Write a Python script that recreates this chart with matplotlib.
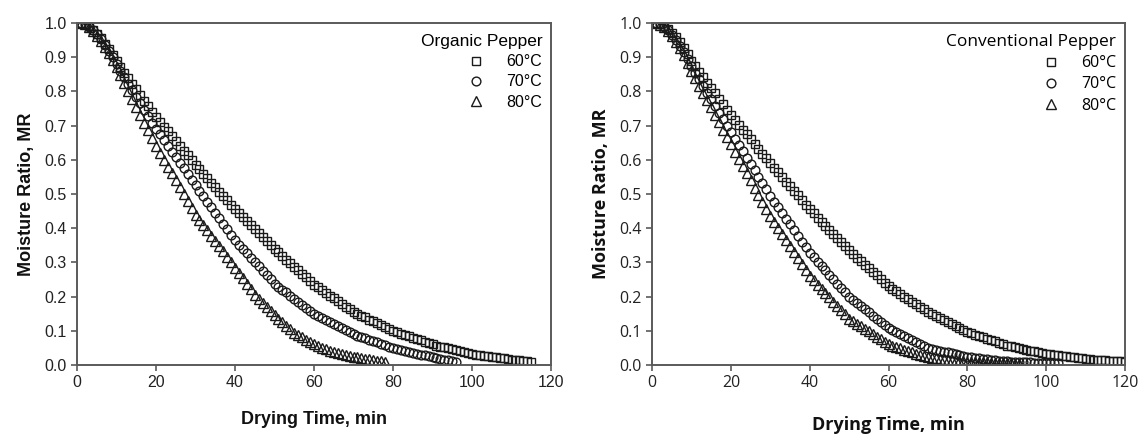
import matplotlib
matplotlib.use("Agg")
import matplotlib.pyplot as plt
from matplotlib.ticker import FormatStrFormatter

# ---------------- data ----------------
org_60_t = list(range(1, 116))
org_60 = [1.000, 0.997, 0.990, 0.980, 0.968, 0.955, 0.940, 0.924, 0.907, 0.889,
          0.872, 0.855, 0.839, 0.822, 0.806, 0.790, 0.773, 0.757, 0.741, 0.725,
          0.711, 0.697, 0.683, 0.669, 0.655, 0.641, 0.627, 0.613, 0.599, 0.585,
          0.572, 0.559, 0.546, 0.533, 0.520, 0.507, 0.494, 0.481, 0.468, 0.455,
          0.444, 0.432, 0.421, 0.409, 0.398, 0.386, 0.375, 0.363, 0.352, 0.340,
          0.330, 0.319, 0.308, 0.298, 0.288, 0.277, 0.267, 0.256, 0.246, 0.235,
          0.227, 0.219, 0.211, 0.203, 0.195, 0.187, 0.179, 0.171, 0.163, 0.155,
          0.150, 0.144, 0.139, 0.133, 0.128, 0.122, 0.117, 0.111, 0.106, 0.100,
          0.096, 0.092, 0.088, 0.084, 0.080, 0.076, 0.072, 0.068, 0.064, 0.060,
          0.057, 0.054, 0.052, 0.049, 0.046, 0.043, 0.040, 0.038, 0.035, 0.032,
          0.030, 0.029, 0.027, 0.026, 0.024, 0.022, 0.021, 0.019, 0.018, 0.016,
          0.015, 0.014, 0.013, 0.011, 0.010]

org_70_t = list(range(1, 97))
org_70 = [1.000, 0.996, 0.989, 0.979, 0.967, 0.953, 0.937, 0.919, 0.900, 0.880,
          0.861, 0.842, 0.823, 0.804, 0.785, 0.766, 0.747, 0.728, 0.709, 0.690,
          0.674, 0.657, 0.641, 0.624, 0.608, 0.591, 0.575, 0.558, 0.542, 0.525,
          0.509, 0.493, 0.477, 0.461, 0.445, 0.429, 0.413, 0.397, 0.381, 0.365,
          0.352, 0.340, 0.327, 0.314, 0.302, 0.289, 0.276, 0.263, 0.251, 0.238,
          0.229, 0.220, 0.212, 0.203, 0.194, 0.185, 0.176, 0.168, 0.159, 0.150,
          0.144, 0.138, 0.132, 0.126, 0.120, 0.114, 0.108, 0.102, 0.096, 0.090,
          0.086, 0.082, 0.078, 0.074, 0.070, 0.066, 0.062, 0.058, 0.054, 0.050,
          0.047, 0.044, 0.042, 0.039, 0.036, 0.033, 0.030, 0.028, 0.025, 0.022,
          0.020, 0.018, 0.016, 0.014, 0.012, 0.010]

org_80_t = list(range(1, 79))
org_80 = [1.000, 0.996, 0.988, 0.977, 0.963, 0.946, 0.930, 0.912, 0.892, 0.870,
          0.847, 0.824, 0.801, 0.778, 0.755, 0.732, 0.709, 0.686, 0.663, 0.640,
          0.620, 0.600, 0.580, 0.560, 0.540, 0.520, 0.500, 0.480, 0.460, 0.440,
          0.425, 0.409, 0.394, 0.378, 0.363, 0.347, 0.332, 0.316, 0.301, 0.285,
          0.269, 0.253, 0.237, 0.221, 0.205, 0.193, 0.181, 0.169, 0.157, 0.145,
          0.135, 0.125, 0.115, 0.105, 0.095, 0.088, 0.081, 0.074, 0.067, 0.060,
          0.055, 0.051, 0.047, 0.042, 0.038, 0.035, 0.032, 0.030, 0.027, 0.024,
          0.022, 0.020, 0.018, 0.017, 0.015, 0.013, 0.012, 0.010]

con_60_t = list(range(1, 121))
con_60 = [1.000, 0.997, 0.991, 0.982, 0.971, 0.958, 0.943, 0.927, 0.909, 0.890,
          0.874, 0.858, 0.842, 0.826, 0.810, 0.794, 0.778, 0.762, 0.746, 0.730,
          0.716, 0.702, 0.688, 0.674, 0.660, 0.646, 0.632, 0.618, 0.604, 0.590,
          0.577, 0.563, 0.550, 0.536, 0.523, 0.509, 0.496, 0.482, 0.469, 0.455,
          0.443, 0.431, 0.419, 0.407, 0.395, 0.383, 0.371, 0.359, 0.347, 0.335,
          0.325, 0.314, 0.304, 0.293, 0.283, 0.272, 0.262, 0.251, 0.241, 0.230,
          0.223, 0.215, 0.208, 0.200, 0.193, 0.185, 0.178, 0.170, 0.163, 0.155,
          0.149, 0.143, 0.138, 0.132, 0.126, 0.120, 0.114, 0.109, 0.103, 0.097,
          0.093, 0.089, 0.085, 0.081, 0.077, 0.073, 0.069, 0.065, 0.061, 0.057,
          0.055, 0.052, 0.050, 0.047, 0.045, 0.042, 0.040, 0.037, 0.035, 0.032,
          0.031, 0.029, 0.028, 0.026, 0.025, 0.024, 0.022, 0.021, 0.019, 0.018,
          0.017, 0.016, 0.015, 0.015, 0.014, 0.013, 0.012, 0.011, 0.011, 0.010]

con_70_t = list(range(1, 104))
con_70 = [1.000, 0.996, 0.989, 0.979, 0.966, 0.951, 0.934, 0.915, 0.895, 0.874,
          0.855, 0.835, 0.816, 0.796, 0.777, 0.758, 0.738, 0.719, 0.699, 0.680,
          0.662, 0.643, 0.625, 0.606, 0.588, 0.569, 0.551, 0.532, 0.514, 0.495,
          0.478, 0.462, 0.445, 0.428, 0.412, 0.395, 0.378, 0.361, 0.345, 0.328,
          0.315, 0.302, 0.290, 0.277, 0.264, 0.251, 0.238, 0.226, 0.213, 0.200,
          0.191, 0.181, 0.172, 0.163, 0.154, 0.144, 0.135, 0.126, 0.116, 0.107,
          0.101, 0.096, 0.090, 0.084, 0.079, 0.073, 0.067, 0.061, 0.056, 0.050,
          0.047, 0.045, 0.042, 0.039, 0.037, 0.034, 0.031, 0.028, 0.026, 0.023,
          0.022, 0.021, 0.019, 0.018, 0.017, 0.016, 0.015, 0.013, 0.012, 0.011,
          0.010, 0.010, 0.009, 0.009, 0.008, 0.008, 0.007, 0.007, 0.006, 0.006,
          0.006, 0.005, 0.005]

con_80_t = list(range(1, 94))
con_80 = [1.000, 0.995, 0.987, 0.976, 0.962, 0.945, 0.926, 0.906, 0.884, 0.860,
          0.839, 0.817, 0.796, 0.774, 0.753, 0.731, 0.710, 0.688, 0.667, 0.645,
          0.624, 0.603, 0.582, 0.561, 0.540, 0.519, 0.498, 0.477, 0.456, 0.435,
          0.418, 0.400, 0.383, 0.365, 0.348, 0.330, 0.313, 0.295, 0.278, 0.260,
          0.248, 0.235, 0.223, 0.210, 0.198, 0.185, 0.173, 0.160, 0.148, 0.135,
          0.128, 0.120, 0.113, 0.105, 0.098, 0.090, 0.083, 0.075, 0.068, 0.060,
          0.056, 0.052, 0.049, 0.045, 0.041, 0.037, 0.033, 0.030, 0.026, 0.022,
          0.021, 0.020, 0.018, 0.017, 0.016, 0.015, 0.014, 0.012, 0.011, 0.010,
          0.010, 0.009, 0.009, 0.008, 0.008, 0.007, 0.007, 0.006, 0.006, 0.005,
          0.005, 0.004, 0.004]

labels = ["60°C", "70°C", "80°C"]
titles = ["Organic Pepper", "Conventional Pepper"]
x_ticks = [0, 20, 40, 60, 80, 100, 120]
y_ticks = [0.0, 0.1, 0.2, 0.3, 0.4, 0.5, 0.6, 0.7, 0.8, 0.9, 1.0]
xlabel = "Drying Time, min"
ylabel = "Moisture Ratio, MR"

panels = [
    [(org_60_t, org_60), (org_70_t, org_70), (org_80_t, org_80)],
    [(con_60_t, con_60), (con_70_t, con_70), (con_80_t, con_80)],
]
fonts = ["Liberation Sans", "Open Sans"]

# ---------------- drawing ----------------
fig = plt.figure(figsize=(11.38, 4.34), dpi=100)
axes_rects = [[0.0677, 0.159, 0.4165, 0.788], [0.5730, 0.159, 0.4156, 0.788]]
xlabelpads = [15, 18]
markers = ["s", "o", "^"]
msizes = [6.3, 6.3, 7.0]
spine_col = "#5a5a5a"

for rect, series, title, fam, xlp in zip(axes_rects, panels, titles, fonts, xlabelpads):
    ax = fig.add_axes(rect)
    for (t, v), m, ms, lab in zip(series, markers, msizes, labels):
        ax.plot(t, v, linestyle="none", marker=m, markersize=ms,
                markerfacecolor="none", markeredgecolor="#1a1a1a",
                markeredgewidth=1.0, label=lab)
    ax.set_xlim(0, 120)
    ax.set_ylim(0, 1.0)
    ax.set_xticks(x_ticks)
    ax.set_yticks(y_ticks)
    ax.yaxis.set_major_formatter(FormatStrFormatter("%.1f"))
    for s in ax.spines.values():
        s.set_color(spine_col)
        s.set_linewidth(1.4)
    ax.tick_params(direction="out", length=4, width=1.2, color=spine_col,
                   labelsize=11.5, labelcolor="#222222")
    for lbl in ax.get_xticklabels() + ax.get_yticklabels():
        lbl.set_family(fam)
    ax.set_xlabel(xlabel, fontsize=13, fontweight="bold", family=fam,
                  labelpad=xlp, color="#111111")
    ax.set_ylabel(ylabel, fontsize=13, fontweight="bold", family=fam,
                  labelpad=7, color="#111111")
    leg = ax.legend(loc="upper right", frameon=False, title=title,
                    alignment="right", prop={"family": fam, "size": 11.5},
                    handletextpad=1.4, labelspacing=0.32,
                    borderaxespad=0.15, handlelength=1.0,
                    bbox_to_anchor=(1.0, 0.993))
    leg.get_title().set_family(fam)
    leg.get_title().set_fontsize(12.5)

fig.savefig("out.png", dpi=100)
